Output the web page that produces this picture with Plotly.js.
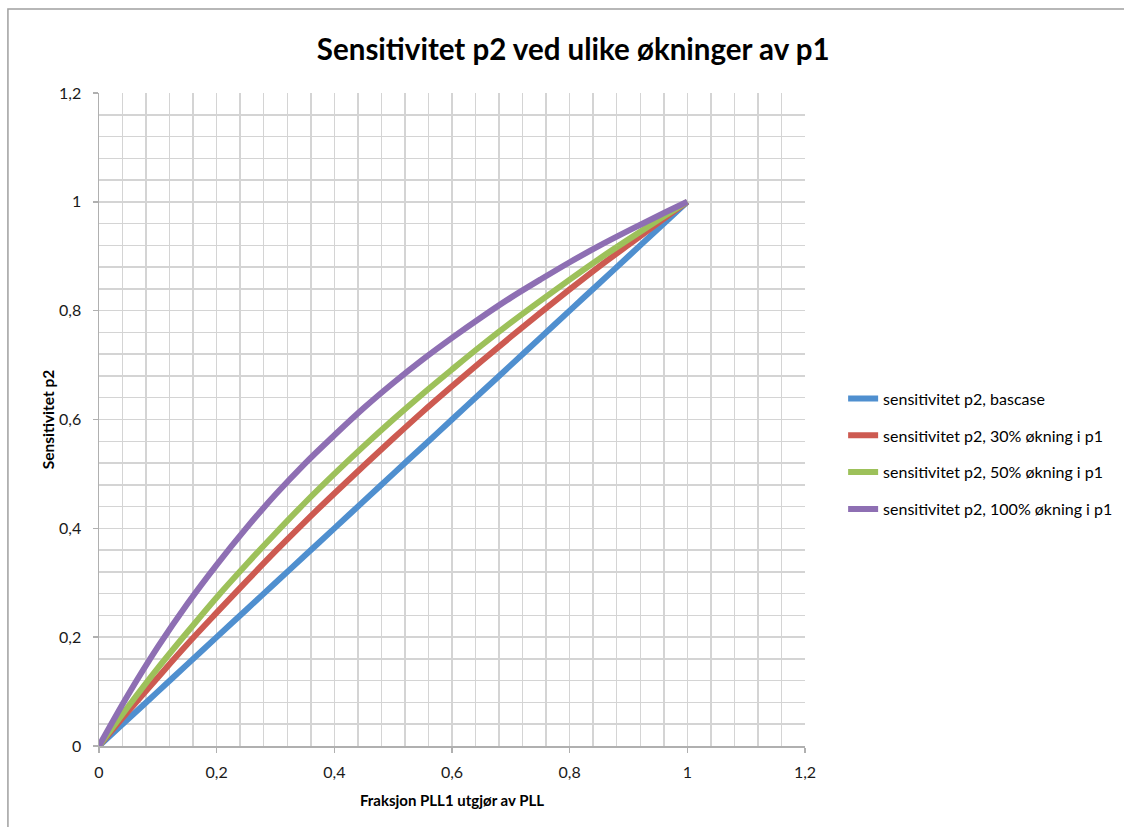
<!DOCTYPE html>
<html>
<head>
<meta charset="utf-8">
<script src="https://cdn.plot.ly/plotly-3.0.1.min.js"></script>
<style>html,body{margin:0;padding:0;background:#fff;}#chart{width:1124px;height:827px;}</style>
</head>
<body>
<div id="chart"></div>
<script>
// Fraction PLL1 of PLL (x values)
const xFrac = [0, 0.05, 0.1, 0.15, 0.2, 0.25, 0.3, 0.35, 0.4, 0.45, 0.5, 0.55, 0.6, 0.65, 0.7, 0.75, 0.8, 0.85, 0.9, 0.95, 1];
// Series values
const baseCase = [0, 0.05, 0.1, 0.15, 0.2, 0.25, 0.3, 0.35, 0.4, 0.45, 0.5, 0.55, 0.6, 0.65, 0.7, 0.75, 0.8, 0.85, 0.9, 0.95, 1];
const inc30 = [0, 0.064, 0.126, 0.187, 0.245, 0.302, 0.358, 0.412, 0.464, 0.515, 0.565, 0.614, 0.661, 0.707, 0.752, 0.796, 0.839, 0.881, 0.921, 0.961, 1];
const inc50 = [0, 0.073, 0.143, 0.209, 0.273, 0.333, 0.391, 0.447, 0.5, 0.551, 0.6, 0.647, 0.692, 0.736, 0.778, 0.818, 0.857, 0.895, 0.931, 0.966, 1];
const inc100 = [0, 0.095, 0.182, 0.261, 0.333, 0.4, 0.462, 0.519, 0.571, 0.621, 0.667, 0.71, 0.75, 0.788, 0.824, 0.857, 0.889, 0.919, 0.947, 0.974, 1];
const seriesNames = [
  "sensitivitet p2, bascase",
  "sensitivitet p2, 30% økning i p1",
  "sensitivitet p2, 50% økning i p1",
  "sensitivitet p2, 100% økning i p1"
];
const seriesColors = ["#4F8FCF", "#CD5A51", "#9DC15A", "#8E6FB3"];
const seriesData = [baseCase, inc30, inc50, inc100];

const traces = seriesData.map((ys, i) => ({
  x: xFrac, y: ys, type: "scatter", mode: "lines",
  name: seriesNames[i], legendgroup: "g" + i,
  line: {color: seriesColors[i], width: 6, shape: "spline"}
}));

const FONT = "Lato, 'Open Sans', sans-serif";
const axisCommon = {
  range: [0, 1.2], dtick: 0.2, tick0: 0,
  showgrid: true, gridcolor: "#D4D4D4", gridwidth: 1.5,
  minor: {dtick: 0.04, showgrid: true, gridcolor: "#D4D4D4", gridwidth: 1.5},
  showline: true, linecolor: "#B0B0B0", linewidth: 1.5,
  ticks: "outside", ticklen: 5, tickcolor: "#B0B0B0", tickwidth: 1.5,
  zeroline: false, fixedrange: true,
  tickfont: {family: FONT, size: 16, color: "#1a1a1a"}
};

const layout = {
  width: 1124, height: 827,
  margin: {l: 99, r: 319, t: 93, b: 81, autoexpand: false},
  paper_bgcolor: "#fff", plot_bgcolor: "#fff",
  separators: ", ",
  font: {family: FONT, color: "#000"},
  title: {
    text: "<b>Sensitivitet p2 ved ulike økninger av p1</b>",
    x: 0.51, xanchor: "center", y: 0.94, yanchor: "middle",
    font: {family: FONT, size: 29.5, color: "#000"}
  },
  xaxis: Object.assign({}, axisCommon, {
    title: {text: "<b>Fraksjon PLL1 utgjør av PLL</b>", standoff: 16,
      font: {family: FONT, size: 15, color: "#000"}},
    ticklabelstandoff: 6
  }),
  yaxis: Object.assign({}, axisCommon, {
    title: {text: "<b>Sensitivitet p2</b>", standoff: 0,
      font: {family: FONT, size: 15.5, color: "#000"}},
    ticklabelstandoff: 8
  }),
  legend: {
    x: 1.054, xanchor: "left", y: 0.447, yanchor: "middle",
    font: {family: FONT, size: 16, color: "#000"},
    tracegroupgap: 13, bgcolor: "rgba(0,0,0,0)", itemwidth: 30
  },
  shapes: [{
    type: "rect", xref: "paper", yref: "paper",
    x0: -0.129, x1: 2, y0: -1, y1: 1.1286,
    line: {color: "#A0A0A0", width: 1.5}, fillcolor: "rgba(0,0,0,0)", layer: "below"
  }],
  showlegend: true
};

Plotly.newPlot("chart", traces, layout, {displayModeBar: false, staticPlot: true});
</script>
</body>
</html>
